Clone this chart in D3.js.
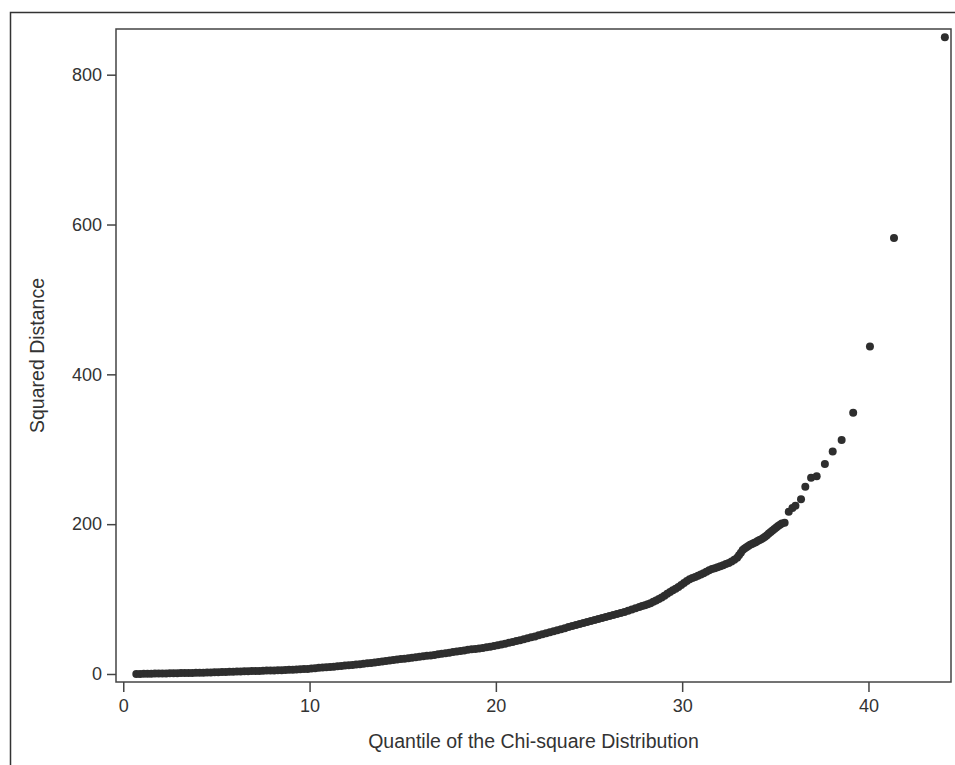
<!DOCTYPE html>
<html>
<head>
<meta charset="utf-8">
<script src="https://cdn.jsdelivr.net/npm/d3@7"></script>
<style>
  html, body { margin: 0; padding: 0; background: #fff; }
  svg { display: block; }
  .tick text { font-family: "Liberation Sans", Arial, sans-serif; font-size: 18px; fill: #333; }
  .tick line { stroke: #444; stroke-width: 1.5; }
  .title { font-family: "Liberation Sans", Arial, sans-serif; font-size: 19.5px; fill: #333; }
</style>
</head>
<body>
<svg id="chart" width="955" height="765"></svg>
<script>
// ---- Data ----
// chi-square quantile (x) and squared Mahalanobis distance (y), one entry per plotted point
const quantile = [
  0.7, 0.9, 1.1, 1.3, 1.5, 1.7, 1.9, 2.1, 2.3, 2.5, 2.7, 2.9, 3.1, 3.3, 3.5, 3.7, 3.9, 4.1,
  4.3, 4.5, 4.7, 4.9, 5.1, 5.3, 5.5, 5.7, 5.9, 6.1, 6.3, 6.5, 6.7, 6.9, 7.1, 7.3, 7.5, 7.7,
  7.9, 8.1, 8.3, 8.5, 8.7, 8.9, 9.1, 9.3, 9.5, 9.7, 9.9, 10.1, 10.3, 10.5, 10.7, 10.9, 11.1,
  11.3, 11.5, 11.7, 11.9, 12.1, 12.3, 12.5, 12.7, 12.9, 13.1, 13.3, 13.5, 13.7, 13.9, 14.1,
  14.3, 14.5, 14.7, 14.9, 15.1, 15.3, 15.5, 15.7, 15.9, 16.1, 16.3, 16.5, 16.7, 16.9, 17.1,
  17.3, 17.5, 17.7, 17.9, 18.1, 18.3, 18.5, 18.7, 18.9, 19.1, 19.3, 19.5, 19.7, 19.9, 20.1,
  20.3, 20.5, 20.7, 20.9, 21.1, 21.3, 21.5, 21.7, 21.9, 22.1, 22.3, 22.5, 22.7, 22.9, 23.1,
  23.3, 23.5, 23.7, 23.9, 24.1, 24.3, 24.5, 24.7, 24.9, 25.1, 25.3, 25.5, 25.7, 25.9, 26.1,
  26.3, 26.5, 26.7, 26.9, 27.1, 27.3, 27.5, 27.7,
  27.85, 28.0, 28.15, 28.3, 28.45, 28.6, 28.75, 28.9, 29.05, 29.2, 29.35, 29.5, 29.65, 29.8,
  29.95, 30.1, 30.25, 30.4, 30.55, 30.7, 30.85, 31.0, 31.15, 31.3, 31.45, 31.6, 31.75, 31.9,
  32.05, 32.2, 32.35, 32.5, 32.65, 32.8, 32.95, 33.05, 33.15, 33.25, 33.35, 33.45, 33.55,
  33.65, 33.75, 33.85, 33.95, 34.05, 34.15, 34.25, 34.35, 34.45, 34.55, 34.65, 34.75, 34.85,
  34.95, 35.05, 35.15, 35.25, 35.35,
  35.5, 35.72, 35.92, 36.08, 36.38, 36.61, 36.92, 37.22, 37.66, 38.08, 38.56, 39.18, 40.08,
  41.37, 44.1
];

const sqDistance = [
  0.0, 0.1, 0.2, 0.3, 0.4, 0.5, 0.6, 0.75, 0.8, 0.9, 1.0, 1.1, 1.2, 1.25, 1.35, 1.45, 1.5, 1.6,
  1.75, 1.9, 2.0, 2.2, 2.35, 2.5, 2.7, 2.85, 3.0, 3.2, 3.35, 3.5, 3.7, 3.85, 4.0, 4.15, 4.3, 4.5,
  4.65, 4.8, 5.0, 5.15, 5.3, 5.5, 5.75, 6.0, 6.25, 6.5, 6.8, 7.2, 7.7, 8.2, 8.6, 9.0, 9.4,
  9.8, 10.3, 10.8, 11.2, 11.7, 12.1, 12.6, 13.1, 13.6, 14.2, 14.8, 15.4, 16.0, 16.7, 17.3,
  17.9, 18.6, 19.2, 19.9, 20.5, 21.1, 21.7, 22.3, 22.9, 23.6, 24.2, 24.8, 25.5, 26.2, 26.9,
  27.7, 28.5, 29.2, 29.9, 30.7, 31.5, 32.3, 33.0, 33.5, 34.0, 34.8, 35.6, 36.5, 37.4, 38.4,
  39.4, 40.5, 41.6, 42.7, 43.9, 45.0, 46.3, 47.6, 48.9, 50.2, 51.6, 53.0, 54.4, 55.7, 57.1,
  58.5, 59.8, 61.2, 62.6, 64.0, 65.4, 66.8, 68.1, 69.4, 70.7, 72.0, 73.3, 74.6, 76.0, 77.3,
  78.7, 80.1, 81.4, 82.9, 84.4, 86.0, 87.6, 89.3,
  90.6, 91.9, 93.1, 94.5, 96.3, 98.2, 100.0, 102.2, 104.5, 107.0, 109.5, 111.7, 113.9, 116.2,
  118.8, 121.4, 124.0, 126.6, 128.2, 129.6, 131.1, 132.7, 134.6, 136.5, 138.4, 140.0, 141.3, 142.5,
  143.8, 145.3, 146.8, 148.3, 150.3, 152.6, 155.2, 158.5, 162.0, 165.4, 167.5, 169.2, 170.9,
  172.4, 173.6, 174.8, 176.0, 177.4, 178.8, 180.0, 181.4, 183.3, 185.3, 187.4, 189.4, 191.4,
  193.5, 195.5, 197.5, 199.3, 201.0,
  202.0, 216.5, 221.5, 224.5, 233.3, 250.0, 261.8, 264.0, 280.4, 296.9, 312.5, 348.6, 437.0,
  582.0, 850.0
];

const xTicks = [0, 10, 20, 30, 40];
const yTicks = [0, 200, 400, 600, 800];

const points = quantile.map((q, i) => ({ q, d: sqDistance[i] }));

// ---- Layout ----
const svg = d3.select('#chart');
const plot = { left: 116, top: 29, right: 951, bottom: 682 };

const x = d3.scaleLinear().domain([-0.39, 44.43]).range([plot.left, plot.right]);
const y = d3.scaleLinear().domain([-10.7, 861]).range([plot.bottom, plot.top]);

svg.append('rect')
  .attr('width', 955).attr('height', 765)
  .attr('fill', '#fff');

// outer frame (runs off the right and bottom edges)
svg.append('rect')
  .attr('x', 10.5).attr('y', 12.5)
  .attr('width', 980).attr('height', 800)
  .attr('fill', 'none')
  .attr('stroke', '#333')
  .attr('stroke-width', 1.5);

// ---- Axes ----
const xAxis = svg.append('g')
  .attr('transform', `translate(0,${plot.bottom})`)
  .call(d3.axisBottom(x).tickValues(xTicks).tickSize(10).tickPadding(7).tickFormat(d3.format('d')));
xAxis.select('.domain').remove();

const yAxis = svg.append('g')
  .attr('transform', `translate(${plot.left},0)`)
  .call(d3.axisLeft(y).tickValues(yTicks).tickSize(9).tickPadding(5).tickFormat(d3.format('d')));
yAxis.select('.domain').remove();

// ---- Points ----
svg.append('g')
  .selectAll('circle')
  .data(points)
  .join('circle')
  .attr('cx', d => x(d.q))
  .attr('cy', d => y(d.d))
  .attr('r', 4)
  .attr('fill', '#2e2e2e');

// plot frame on top
svg.append('rect')
  .attr('x', plot.left).attr('y', plot.top)
  .attr('width', plot.right - plot.left)
  .attr('height', plot.bottom - plot.top)
  .attr('fill', 'none')
  .attr('stroke', '#444')
  .attr('stroke-width', 1.5);

// ---- Titles ----
svg.append('text')
  .attr('class', 'title')
  .attr('x', (plot.left + plot.right) / 2)
  .attr('y', 748)
  .attr('text-anchor', 'middle')
  .text('Quantile of the Chi-square Distribution');

svg.append('text')
  .attr('class', 'title')
  .attr('transform', `translate(44,${(plot.top + plot.bottom) / 2}) rotate(-90)`)
  .attr('text-anchor', 'middle')
  .text('Squared Distance');
</script>
</body>
</html>
